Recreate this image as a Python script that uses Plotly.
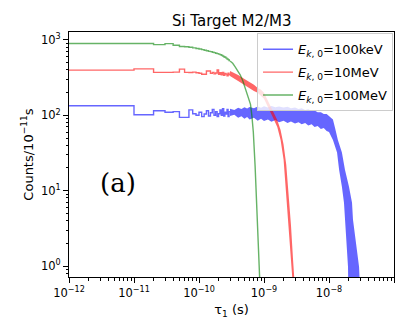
import plotly.graph_objects as go

# ---------------- data ----------------
BIN_WIDTH = 1e-11  # histogram bin width (s)

series_names = [
    "<i>E</i><sub><i>k</i>, 0</sub>=100keV",
    "<i>E</i><sub><i>k</i>, 0</sub>=10MeV",
    "<i>E</i><sub><i>k</i>, 0</sub>=100MeV",
]

# counts in the first 30 bins (0 .. 3e-10 s), read individually
blue_bins = [134, 102, 115, 110, 112, 94, 94, 118, 105, 100, 110, 96, 104, 115, 98,
             108, 120, 100, 112, 96, 105, 118, 100, 122, 98, 110, 104, 120, 96, 112]
red_bins = [398, 413, 372, 372, 375, 410, 372, 370, 375, 368, 362, 351, 351, 388, 388,
            360, 372, 355, 365, 400, 350, 368, 345, 372, 340, 360, 352, 335, 362, 345]
green_bins = [900, 900, 868, 895, 850, 820, 812, 800, 785, 770, 760, 745, 730, 720, 705,
              700, 688, 680, 668, 660, 650, 640, 628, 612, 600, 590, 575, 560, 548, 535]

# dense (noisy) part of the 100keV histogram: envelope of the band
blue_upper_x = [3e-10, 3.5e-10, 4e-10, 4.5e-10, 5e-10, 5.5e-10, 6e-10, 7e-10, 8e-10, 9e-10,
                1e-9, 1.15e-9, 1.3e-9, 1.5e-9, 1.7e-9, 2e-9, 2.3e-9, 2.6e-9, 3e-9, 3.4e-9,
                3.8e-9, 4.3e-9, 4.8e-9, 5.4e-9, 6e-9, 6.7e-9, 7.5e-9, 8.3e-9, 9.2e-9, 1.0e-8,
                1.15e-8, 1.24e-8, 1.37e-8, 1.58e-8, 1.76e-8, 2.03e-8, 2.26e-8, 2.34e-8,
                2.51e-8, 2.7e-8, 2.9e-8, 3.0e-8]
blue_upper_y = [122, 118, 126, 121, 128, 123, 129, 124, 131, 126, 132, 127, 133, 128, 131,
                127, 130, 124, 127, 121, 124, 118, 120, 114, 116, 110, 110, 104, 104, 97,
                88, 68, 47, 32, 19, 11.3, 6.9, 4.1, 2.46, 1.51, 0.98, 0.5]
blue_lower_x = [3e-10, 3.5e-10, 4e-10, 4.5e-10, 5e-10, 5.5e-10, 6e-10, 7e-10, 8e-10, 9e-10,
                1e-9, 1.15e-9, 1.3e-9, 1.5e-9, 1.7e-9, 2e-9, 2.3e-9, 2.6e-9, 3e-9, 3.4e-9,
                3.8e-9, 4.3e-9, 4.8e-9, 5.4e-9, 6e-9, 6.7e-9, 7.5e-9, 8.3e-9, 9.2e-9, 1.0e-8,
                1.15e-8, 1.33e-8, 1.43e-8, 1.58e-8, 1.70e-8, 1.76e-8, 1.85e-8, 1.9e-8,
                1.96e-8, 1.98e-8]
blue_lower_y = [98, 102, 93, 97, 90, 95, 88, 93, 85, 90, 84, 88, 82, 87, 81, 85, 79, 83,
                78, 81, 76, 79, 73, 76, 70, 72, 66, 68, 62, 60,
                47, 32, 19, 11.3, 6.9, 4.1, 2.46, 1.51, 0.98, 0.5]

# dense part of the 10MeV histogram
red_band_x = [3e-10, 4e-10, 5e-10, 6e-10, 7e-10, 8e-10, 9e-10, 1e-9, 1.2e-9, 1.4e-9, 1.6e-9,
              1.8e-9, 2.0e-9, 2.2e-9, 2.4e-9, 2.6e-9, 2.8e-9, 3.0e-9]
red_upper_y = [388, 344, 304, 278, 254, 231, 218, 199, 147, 111, 87, 64, 41, 22, 8.8, 3.5,
               1.2, 0.5]
red_lower_y = [333, 286, 253, 231, 211, 199, 181, 166, 118, 90, 70, 47, 26, 10.3, 3.5, 1.2,
               0.5, 0.5]

# dense part of the 100MeV histogram (thin line)
green_tail_x = [3.0e-10, 3.3e-10, 3.6e-10, 4.0e-10, 4.3e-10, 4.7e-10, 5.1e-10, 5.6e-10,
                6.2e-10, 6.5e-10, 6.85e-10, 7.3e-10, 7.7e-10, 8.0e-10, 8.45e-10, 8.8e-10]
green_tail_y = [525, 490, 440, 385, 345, 290, 235, 180, 140, 100, 60, 21, 7.6, 2.8, 1.0, 0.4]

colors = ["rgba(0,0,255,0.6)", "rgba(255,0,0,0.6)", "rgba(0,128,0,0.6)"]

x_range_log = [-12, -7]
y_range_log = [-0.146, 3.106]
x_decades = [-12, -11, -10, -9, -8, -7]
y_decades = [0, 1, 2, 3]
mantissas = [2, 3, 4, 5, 6, 7, 8, 9]

x_tick_vals = [10.0 ** d for d in x_decades]
x_tick_text = [f"10<sup>{str(d).replace('-', '−')}</sup>" for d in x_decades]
y_tick_vals = [10.0 ** d for d in y_decades]
y_tick_text = [f"10<sup>{d}</sup>" for d in y_decades]
x_minor_vals = [m * 10.0 ** d for d in x_decades[:-1] for m in mantissas]
y_minor_vals = [m * 10.0 ** d for d in [-1] + y_decades for m in mantissas]

FONT = "DejaVu Sans"
LW = 1.4


def step_xy(values):
    n = len(values)
    edges = [max(i * BIN_WIDTH, 1e-15) for i in range(n + 1)]
    return edges, list(values) + [values[-1]]


fig = go.Figure()

# blue
x, y = step_xy(blue_bins)
fig.add_trace(go.Scatter(x=x, y=y, mode="lines", line=dict(color=colors[0], width=LW, shape="hv"),
                         name=series_names[0], legendgroup="b", showlegend=True))
fig.add_trace(go.Scatter(x=blue_upper_x + blue_lower_x[::-1], y=blue_upper_y + blue_lower_y[::-1],
                         mode="lines", fill="toself", fillcolor=colors[0], legendgroup="b",
                         line=dict(width=0, color=colors[0]), showlegend=False, hoverinfo="skip"))
# red
x, y = step_xy(red_bins)
fig.add_trace(go.Scatter(x=x, y=y, mode="lines", line=dict(color=colors[1], width=LW, shape="hv"),
                         name=series_names[1], legendgroup="r", showlegend=True))
fig.add_trace(go.Scatter(x=red_band_x + red_band_x[::-1], y=red_upper_y + red_lower_y[::-1],
                         mode="lines", fill="toself", fillcolor=colors[1], legendgroup="r",
                         line=dict(width=0, color=colors[1]), showlegend=False, hoverinfo="skip"))
# green
x, y = step_xy(green_bins)
fig.add_trace(go.Scatter(x=x, y=y, mode="lines", line=dict(color=colors[2], width=LW, shape="hv"),
                         name=series_names[2], legendgroup="g", showlegend=True))
fig.add_trace(go.Scatter(x=green_tail_x, y=green_tail_y, mode="lines", legendgroup="g",
                         line=dict(color=colors[2], width=LW), showlegend=False, hoverinfo="skip"))

axis_common = dict(
    type="log", showgrid=False, zeroline=False, automargin=False,
    showline=True, linecolor="black", linewidth=1, mirror=True,
    ticks="outside", ticklen=5, tickwidth=1, tickcolor="black",
    tickfont=dict(family=FONT, size=11.5, color="black"),
)

# the page body has an 8px margin, so the figure is 8px smaller than the window
fig.update_layout(
    template="none",
    width=399, height=318,
    margin=dict(l=61, r=13, t=24, b=49, autoexpand=False),
    paper_bgcolor="white", plot_bgcolor="white",
    font=dict(family=FONT, size=13, color="black"),
    title=dict(text="Si Target M2/M3", x=0.5607, xanchor="center", y=0.959, yanchor="middle",
               font=dict(family=FONT, size=15, color="black")),
    xaxis=dict(range=x_range_log, tickmode="array", tickvals=x_tick_vals, ticktext=x_tick_text,
               minor=dict(tickmode="array", tickvals=x_minor_vals, ticks="outside", ticklen=2.5,
                          tickwidth=0.8, tickcolor="black", showgrid=False),
               title=dict(text="τ<sub>1</sub> (s)", font=dict(size=13), standoff=6),
               **axis_common),
    yaxis=dict(range=y_range_log, tickmode="array", tickvals=y_tick_vals, ticktext=y_tick_text,
               minor=dict(tickmode="array", tickvals=y_minor_vals, ticks="outside", ticklen=2.5,
                          tickwidth=0.8, tickcolor="black", showgrid=False),
               title=dict(text="Counts/10<sup>−11</sup>s", font=dict(size=13), standoff=4),
               **axis_common),
    legend=dict(x=0.997, y=0.995, xanchor="right", yanchor="top",
                bgcolor="rgba(255,255,255,0.8)", bordercolor="#cccccc", borderwidth=1,
                font=dict(family=FONT, size=13), tracegroupgap=3, traceorder="grouped"),
    annotations=[dict(text="(a)", x=0.151, y=0.384, xref="paper", yref="paper",
                      xanchor="center", yanchor="middle", showarrow=False,
                      font=dict(family="DejaVu Serif", size=26, color="black"))],
)

fig.write_html("out.html")
